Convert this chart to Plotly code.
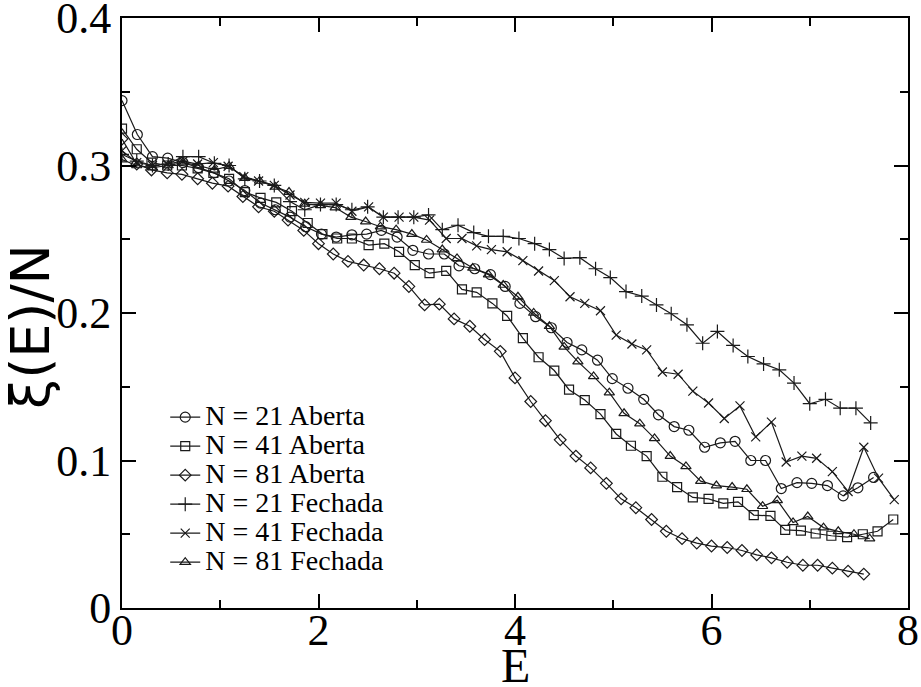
import plotly.graph_objects as go

# N = 21 Aberta (circles)
e_21a = [0, 0.156, 0.31, 0.465, 0.62, 0.78, 0.94, 1.09, 1.25, 1.41, 1.56, 1.71, 1.87, 2.03,
         2.18, 2.34, 2.49, 2.64, 2.80, 2.96, 3.12, 3.28, 3.43, 3.59, 3.75, 3.90, 4.05, 4.21,
         4.37, 4.53, 4.68, 4.84, 4.99, 5.15, 5.31, 5.46, 5.62, 5.77, 5.93, 6.09, 6.24, 6.40,
         6.55, 6.71, 6.87, 7.02, 7.18, 7.34, 7.49, 7.65]
xi_21a = [0.344, 0.321, 0.306, 0.305, 0.302, 0.2985, 0.295, 0.2895, 0.283, 0.2745, 0.270,
          0.265, 0.2585, 0.2535, 0.2515, 0.253, 0.2535, 0.256, 0.2515, 0.2425, 0.240, 0.240,
          0.232, 0.230, 0.226, 0.218, 0.2065, 0.1975, 0.190, 0.180, 0.175, 0.168, 0.1555,
          0.149, 0.1415, 0.131, 0.123, 0.1205, 0.109, 0.112, 0.113, 0.100, 0.100, 0.081,
          0.085, 0.0845, 0.083, 0.076, 0.0815, 0.0885]

# N = 41 Aberta (squares)
e_41a = [0, 0.15, 0.30, 0.46, 0.61, 0.77, 0.93, 1.09, 1.25, 1.41, 1.57, 1.73, 1.89, 2.04,
         2.19, 2.34, 2.51, 2.67, 2.82, 2.98, 3.13, 3.30, 3.46, 3.61, 3.77, 3.92, 4.08, 4.24,
         4.40, 4.55, 4.71, 4.87, 5.03, 5.18, 5.34, 5.50, 5.65, 5.81, 5.97, 6.12, 6.27, 6.43,
         6.60, 6.75, 6.91, 7.06, 7.22, 7.38, 7.54, 7.69, 7.85]
xi_41a = [0.325, 0.311, 0.302, 0.300, 0.300, 0.298, 0.295, 0.291, 0.282, 0.278, 0.275,
          0.269, 0.261, 0.2535, 0.2505, 0.2505, 0.246, 0.247, 0.2415, 0.2325, 0.227, 0.2285,
          0.216, 0.214, 0.2065, 0.198, 0.183, 0.170, 0.161, 0.148, 0.141, 0.1315, 0.118,
          0.110, 0.103, 0.089, 0.082, 0.075, 0.074, 0.071, 0.072, 0.063, 0.0625, 0.053,
          0.0525, 0.0505, 0.049, 0.048, 0.050, 0.052, 0.060]

# N = 81 Aberta (diamonds)
e_81a = [0, 0.15, 0.30, 0.46, 0.61, 0.77, 0.92, 1.08, 1.23, 1.39, 1.55, 1.69, 1.85, 2.0,
         2.15, 2.30, 2.46, 2.62, 2.77, 2.92, 3.08, 3.23, 3.38, 3.54, 3.69, 3.85, 4.0, 4.16,
         4.31, 4.46, 4.62, 4.77, 4.93, 5.08, 5.23, 5.39, 5.54, 5.70, 5.85, 6.0, 6.16, 6.31,
         6.46, 6.61, 6.77, 6.93, 7.08, 7.23, 7.39, 7.55]
xi_81a = [0.318, 0.301, 0.297, 0.295, 0.294, 0.291, 0.288, 0.286, 0.279, 0.272, 0.269,
          0.263, 0.256, 0.247, 0.240, 0.235, 0.2325, 0.230, 0.227, 0.218, 0.2055, 0.206,
          0.196, 0.191, 0.182, 0.174, 0.156, 0.140, 0.127, 0.114, 0.103, 0.095, 0.0845,
          0.074, 0.068, 0.060, 0.052, 0.047, 0.044, 0.042, 0.041, 0.039, 0.036, 0.034,
          0.031, 0.029, 0.029, 0.027, 0.025, 0.023]

# N = 21 Fechada (plus)
e_21f = [0, 0.15, 0.31, 0.47, 0.62, 0.78, 0.94, 1.09, 1.25, 1.40, 1.55, 1.71, 1.86, 2.02,
         2.18, 2.34, 2.50, 2.66, 2.81, 2.97, 3.12, 3.26, 3.42, 3.58, 3.73, 3.88, 4.04, 4.20,
         4.35, 4.50, 4.66, 4.82, 4.97, 5.13, 5.29, 5.44, 5.59, 5.75, 5.91, 6.06, 6.22, 6.37,
         6.53, 6.69, 6.84, 7.00, 7.16, 7.31, 7.47, 7.62]
xi_21f = [0.3075, 0.303, 0.300, 0.301, 0.306, 0.306, 0.3015, 0.300, 0.291, 0.2895, 0.2865,
          0.2755, 0.270, 0.2735, 0.2735, 0.270, 0.272, 0.265, 0.265, 0.265, 0.2665, 0.2565,
          0.2595, 0.2545, 0.252, 0.252, 0.2505, 0.247, 0.243, 0.237, 0.2375, 0.230, 0.224,
          0.2145, 0.2115, 0.2055, 0.1995, 0.192, 0.1795, 0.1875, 0.178, 0.1705, 0.1655,
          0.1615, 0.1525, 0.1385, 0.1415, 0.1355, 0.1355, 0.1255]

# N = 41 Fechada (x)
e_41f = [0, 0.15, 0.31, 0.46, 0.62, 0.77, 0.93, 1.08, 1.24, 1.39, 1.55, 1.71, 1.86, 2.02,
         2.18, 2.34, 2.51, 2.66, 2.82, 2.97, 3.13, 3.30, 3.46, 3.61, 3.76, 3.92, 4.08, 4.24,
         4.40, 4.56, 4.71, 4.87, 5.03, 5.19, 5.34, 5.50, 5.66, 5.81, 5.97, 6.13, 6.29, 6.45,
         6.61, 6.76, 6.92, 7.07, 7.23, 7.39, 7.55, 7.70, 7.86]
xi_41f = [0.310, 0.302, 0.300, 0.301, 0.303, 0.301, 0.302, 0.2995, 0.2925, 0.2895, 0.2865,
          0.280, 0.275, 0.2745, 0.2745, 0.269, 0.272, 0.265, 0.265, 0.265, 0.263, 0.2505,
          0.2505, 0.2455, 0.243, 0.2415, 0.2355, 0.2285, 0.222, 0.211, 0.2065, 0.2015, 0.185,
          0.179, 0.175, 0.160, 0.1585, 0.147, 0.139, 0.1285, 0.137, 0.116, 0.126, 0.099,
          0.103, 0.1015, 0.0925, 0.079, 0.109, 0.088, 0.0735]

# N = 81 Fechada (triangles)
e_81f = [0, 0.15, 0.31, 0.47, 0.62, 0.78, 0.94, 1.09, 1.25, 1.40, 1.56, 1.70, 1.86, 2.02,
         2.17, 2.33, 2.48, 2.63, 2.79, 2.95, 3.10, 3.26, 3.41, 3.57, 3.73, 3.88, 4.03, 4.19,
         4.35, 4.50, 4.64, 4.80, 4.96, 5.11, 5.27, 5.42, 5.58, 5.74, 5.89, 6.05, 6.21, 6.36,
         6.52, 6.67, 6.83, 6.98, 7.14, 7.29, 7.45, 7.61]
xi_81f = [0.304, 0.300, 0.2985, 0.300, 0.302, 0.300, 0.297, 0.2995, 0.2915, 0.2895, 0.2855,
          0.282, 0.274, 0.273, 0.2715, 0.265, 0.262, 0.2585, 0.2565, 0.2535, 0.2495, 0.243,
          0.237, 0.2305, 0.226, 0.219, 0.211, 0.200, 0.191, 0.177, 0.167, 0.157, 0.146,
          0.132, 0.125, 0.115, 0.103, 0.096, 0.086, 0.083, 0.082, 0.0805, 0.069, 0.073,
          0.058, 0.062, 0.0545, 0.052, 0.050, 0.047]

x_ticks = [0, 2, 4, 6, 8]
y_ticks = [0, 0.1, 0.2, 0.3, 0.4]
y_ticklabels = ["0", "0.1", "0.2", "0.3", "0.4"]

series = [
    ("N = 21 Aberta", e_21a, xi_21a, "circle-open", 10),
    ("N = 41 Aberta", e_41a, xi_41a, "square-open", 9),
    ("N = 81 Aberta", e_81a, xi_81a, "diamond-open", 9),
    ("N = 21 Fechada", e_21f, xi_21f, "cross-thin-open", 10),
    ("N = 41 Fechada", e_41f, xi_41f, "x-thin-open", 9),
    ("N = 81 Fechada", e_81f, xi_81f, "triangle-up-open", 9),
]

ink = "#1a1a1a"
fig = go.Figure()
for name, e, xi, sym, size in series:
    fig.add_trace(go.Scatter(
        x=e, y=xi, mode="lines+markers",
        # bigger legend text than the legend row height would give
        name='<span style="font-size:28px">%s</span>' % name,
        line=dict(color=ink, width=1.2),
        marker=dict(symbol=sym, size=size, color=ink, line=dict(color=ink, width=1.2)),
    ))

serif = "Liberation Serif, Times New Roman, serif"
axis_common = dict(
    showgrid=False, zeroline=False, showline=True, linecolor="black", linewidth=2,
    mirror="allticks", ticks="inside", ticklen=14, tickwidth=1.5, tickcolor="black",
    tickfont=dict(family=serif, size=44, color="black"), automargin=False,
    ticklabeloverflow="allow",
)

fig.update_layout(
    width=921, height=687,
    margin=dict(l=122, r=13, t=18, b=79),
    paper_bgcolor="white", plot_bgcolor="white",
    showlegend=True,
    legend=dict(x=0.055, y=0.3565, xanchor="left", yanchor="top",
                bgcolor="rgba(0,0,0,0)", borderwidth=0,
                font=dict(family=serif, size=20, color="black")),
    xaxis=dict(range=[0, 8], tickvals=x_ticks, ticklabelstandoff=-18,
               minor=dict(dtick=1, ticks="inside", ticklen=8, tickcolor="black", tickwidth=1.5),
               **axis_common),
    yaxis=dict(range=[0, 0.4], tickvals=y_ticks, ticktext=y_ticklabels,
               minor=dict(dtick=0.05, ticks="inside", ticklen=8, tickcolor="black", tickwidth=1.5),
               **axis_common),
    annotations=[
        dict(text="E", xref="paper", yref="paper", x=0.5, y=-0.097,
             xanchor="center", yanchor="middle", showarrow=False,
             font=dict(family=serif, size=48, color="black")),
        dict(text="ξ(E)/N", xref="paper", yref="paper", x=-0.1158, y=0.478,
             xanchor="center", yanchor="middle", showarrow=False, textangle=-90,
             font=dict(family="DejaVu Sans, Liberation Sans, sans-serif", size=54, color="black")),
    ],
)

# drop the default page margin so the 0.4 label at the very top is not clipped
fig.write_html("out.html", config={"displayModeBar": False},
               post_script="document.body.style.margin = '0';")
